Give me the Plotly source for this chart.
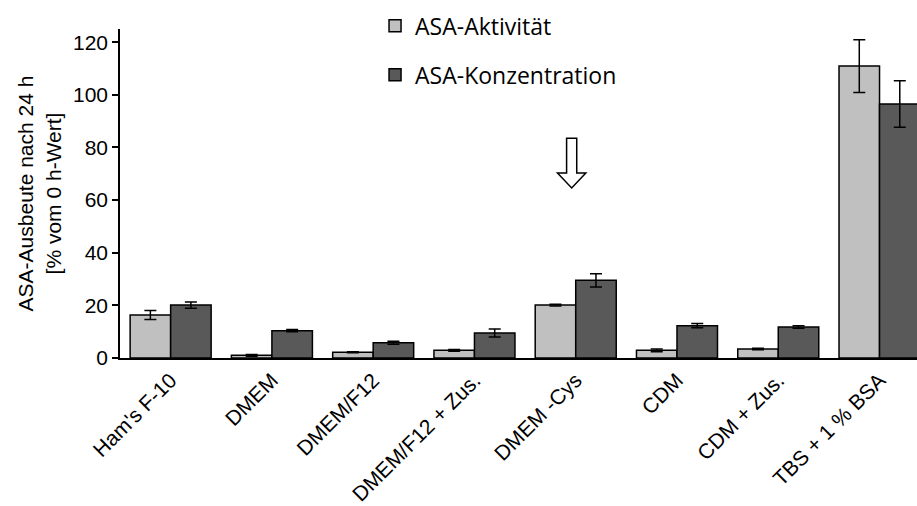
import plotly.graph_objects as go

categories = ["Ham's F-10", "DMEM", "DMEM/F12", "DMEM/F12 + Zus.", "DMEM -Cys", "CDM", "CDM + Zus.", "TBS + 1 % BSA"]
aktivitaet = [16.3, 1.0, 2.2, 2.9, 20.1, 2.9, 3.4, 110.9]
aktivitaet_err = [1.7, 0.3, 0.2, 0.3, 0.3, 0.5, 0.3, 10.0]
konzentration = [20.1, 10.4, 5.8, 9.5, 29.5, 12.3, 11.8, 96.5]
konzentration_err = [1.2, 0.4, 0.6, 1.5, 2.5, 0.8, 0.5, 8.8]

x_idx = list(range(len(categories)))

fig = go.Figure()
fig.add_trace(go.Bar(
    x=x_idx, y=aktivitaet, name="ASA-Aktivität", legendgroup="a",
    marker=dict(color="#c0c0c0", line=dict(color="black", width=1.5)),
    error_y=dict(type="data", array=aktivitaet_err, color="black", thickness=1.5, width=6),
))
fig.add_trace(go.Bar(
    x=x_idx, y=konzentration, name="ASA-Konzentration", legendgroup="b",
    marker=dict(color="#595959", line=dict(color="black", width=1.5)),
    error_y=dict(type="data", array=konzentration_err, color="black", thickness=1.5, width=6),
))

# hollow down arrow above DMEM -Cys
ax = 3.96
sw = 0.05
hw = 0.14
path = (f"M {ax-sw},83.5 L {ax+sw},83.5 L {ax+sw},70.3 L {ax+hw},70.3 "
        f"L {ax},64.6 L {ax-hw},70.3 L {ax-sw},70.3 Z")
fig.add_shape(type="path", path=path, xref="x", yref="y",
              line=dict(color="black", width=1.5), fillcolor="white")

fig.update_layout(
    width=917, height=506,
    margin=dict(l=120, r=0, t=29, b=148),
    paper_bgcolor="white", plot_bgcolor="white",
    barmode="group", bargap=0.2, bargroupgap=0,
    font=dict(family="Liberation Sans, Arial", color="black", size=18),
    showlegend=True,
    legend=dict(x=0.32, y=1.075, xanchor="left", yanchor="top",
                font=dict(family="Open Sans", size=23, color="black"),
                tracegroupgap=16, traceorder="grouped",
                bgcolor="rgba(0,0,0,0)"),
    xaxis=dict(
        range=[-0.5, 7.37], tickmode="array", tickvals=x_idx, ticktext=categories,
        tickangle=-45, tickfont=dict(size=21), showline=True, linecolor="black",
        linewidth=1.5, ticks="", showgrid=False, zeroline=False,
    ),
    yaxis=dict(
        range=[0, 125], tickvals=[0, 20, 40, 60, 80, 100, 120],
        tickfont=dict(size=21), ticks="outside", ticklen=6, tickwidth=1.5,
        tickcolor="black", showline=True, linecolor="black", linewidth=1.5,
        showgrid=False, zeroline=False,
        title=dict(text="ASA-Ausbeute nach 24 h<br>[% vom 0 h-Wert]",
                   font=dict(size=21), standoff=6),
    ),
)

fig.write_html("out.html")
